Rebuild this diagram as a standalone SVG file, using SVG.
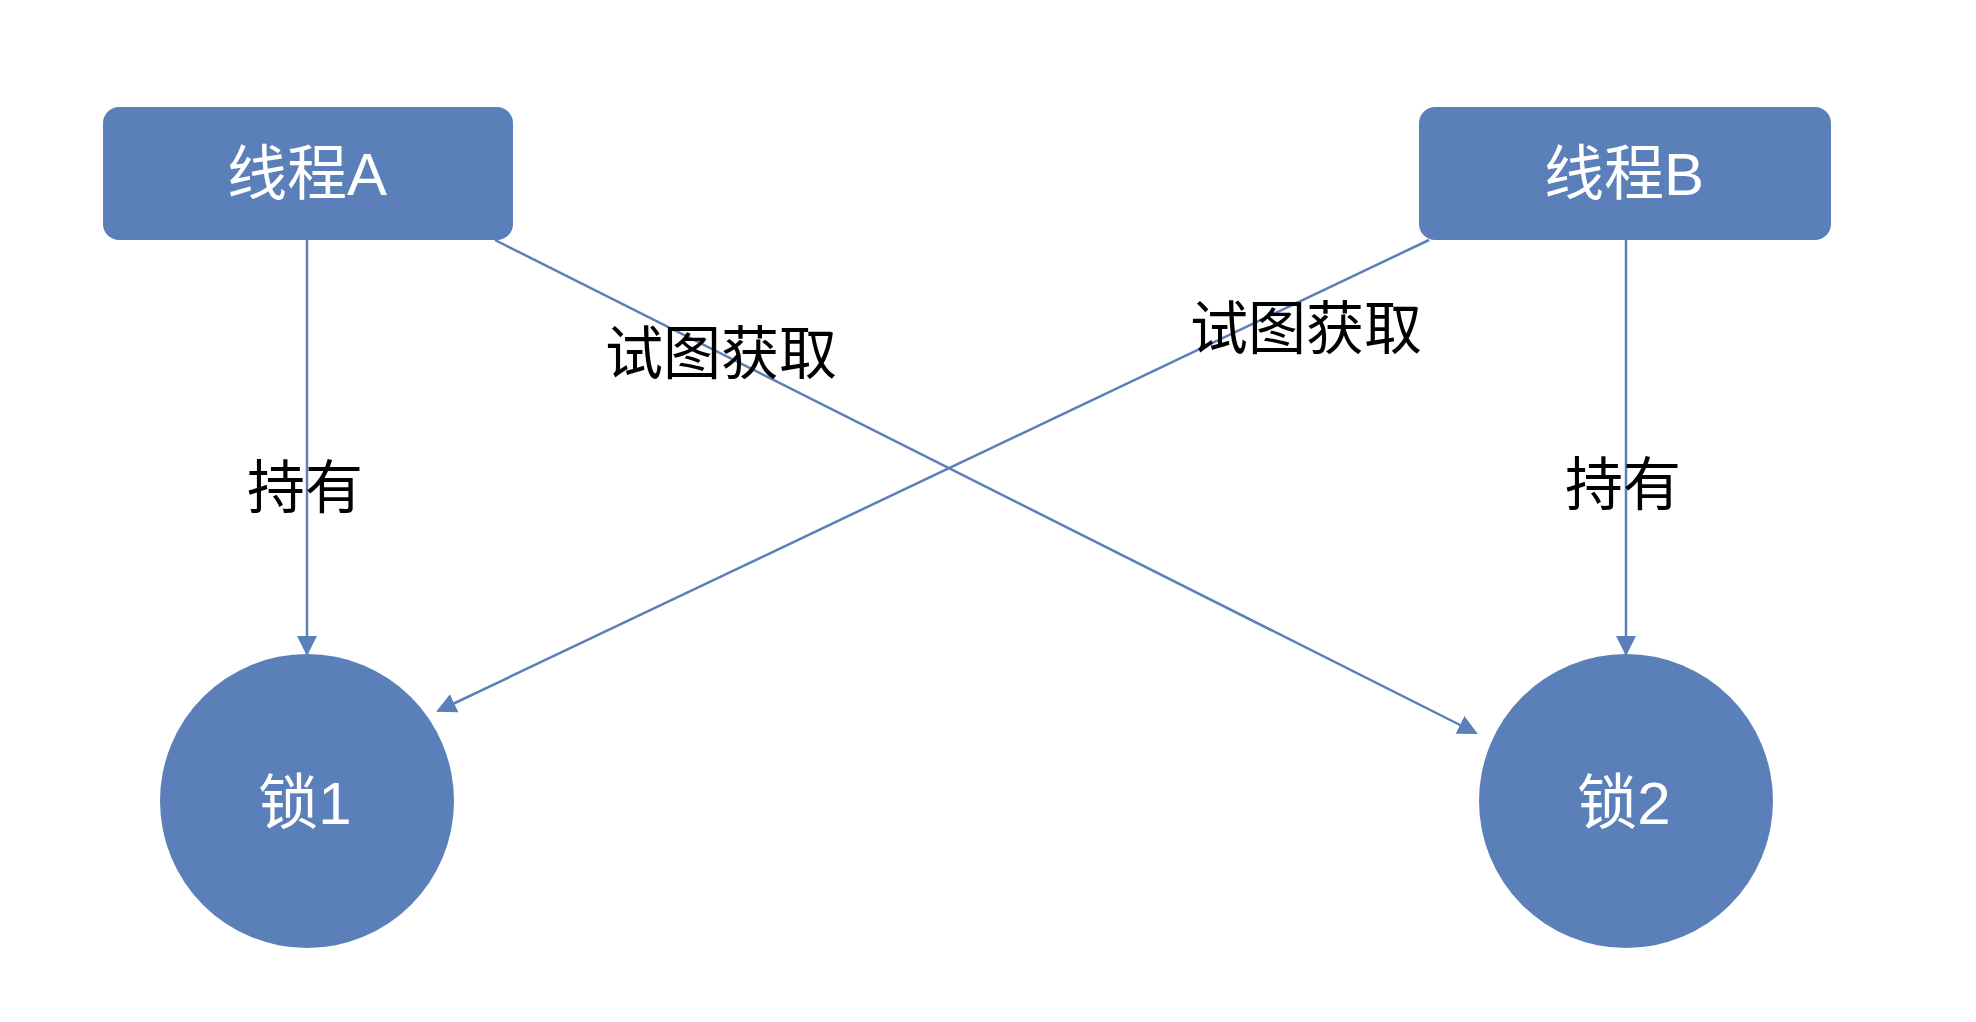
<svg xmlns="http://www.w3.org/2000/svg" width="1976" height="1022" viewBox="0 0 1976 1022">
<style>
.n{fill:#5b80b9}
.t{fill:#fff;font-family:"Liberation Sans","Noto Sans CJK SC",sans-serif;font-size:60px;text-anchor:middle;dominant-baseline:central}
.l{fill:#000;font-family:"Noto Sans CJK SC",sans-serif;font-size:58px;text-anchor:middle;dominant-baseline:central}
.c{stroke:#5b80b9;stroke-width:2.5;fill:none;marker-end:url(#a)}
</style>
<defs><marker id="a" viewBox="0 0 10 10" refX="9" refY="5" markerWidth="8" markerHeight="8" orient="auto" markerUnits="userSpaceOnUse"><path d="M0,0L10,5L0,10z" fill="#5b80b9"/></marker></defs>
<defs><marker id="b" viewBox="0 0 10 10" refX="9" refY="5" markerWidth="20" markerHeight="20" orient="auto" markerUnits="userSpaceOnUse"><path d="M0,0L10,5L0,10z" fill="#5b80b9"/></marker></defs>
<rect width="1976" height="1022" fill="#fff"/>
<g id="connectors">
<line class="c" style="marker-end:url(#b)" x1="307" y1="240" x2="307" y2="654"/>
<line class="c" style="marker-end:url(#b)" x1="1626" y1="240" x2="1626" y2="654"/>
<line class="c" style="marker-end:url(#b)" x1="495" y1="240" x2="1476" y2="733"/>
<line class="c" style="marker-end:url(#b)" x1="1429" y1="240" x2="438" y2="711"/>
<text class="l" x="305" y="483">持有</text>
<text class="l" x="1623" y="480">持有</text>
<text class="l" x="721" y="349">试图获取</text>
<text class="l" x="1306" y="324">试图获取</text>
</g>
<g id="threadA"><rect class="n" x="103" y="107" width="410" height="133" rx="16"/><text class="t" x="307" y="174">线程A</text></g>
<g id="threadB"><rect class="n" x="1419" y="107" width="412" height="133" rx="16"/><text class="t" x="1624" y="174">线程B</text></g>
<g id="lock1"><circle class="n" cx="307" cy="801" r="147"/><text class="t" x="305" y="803">锁1</text></g>
<g id="lock2"><circle class="n" cx="1626" cy="801" r="147"/><text class="t" x="1624" y="803">锁2</text></g>
</svg>
